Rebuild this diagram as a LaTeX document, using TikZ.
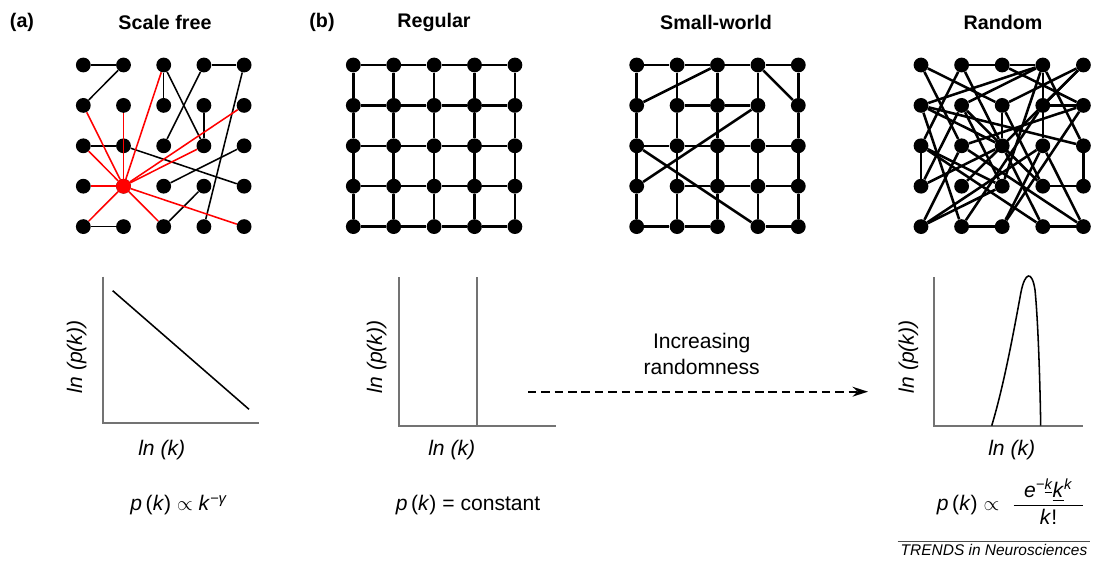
\documentclass[tikz,border=0pt]{standalone}
\usepackage{amsmath}
\usepackage{fontspec}
\setmainfont{Liberation Sans}
\usetikzlibrary{arrows.meta}

\begin{document}
\begin{tikzpicture}[x=0.025cm, y=-0.025cm,
    dot/.style={circle, fill=black, inner sep=0pt, minimum size=0.37cm},
    hubdot/.style={dot, fill=red},
    edge/.style={line width=1.8pt},
    thinedge/.style={line width=1.1pt},
    hubedge/.style={thinedge, red},
    axis/.style={line width=1.3pt, black!55},
    curve/.style={line width=1.1pt},
    title/.style={font=\bfseries\fontsize{14}{16}\selectfont},
    lbl/.style={font=\itshape\fontsize{15}{17}\selectfont},
    formula/.style={font=\fontsize{15}{18}\selectfont},
    dasharrow/.style={line width=1.2pt, dash pattern=on 6pt off 3.5pt, -{Stealth[length=11pt, width=7pt]}}]

    \useasboundingbox (0,0) rectangle (1097,565);

    % Titles
    \node[title] (tag-a) at (22,22) {(a)};
    \node[title] (t-sf) at (165,22) {Scale free};
    \node[title] (tag-b) at (322,22) {(b)};
    \node[title] (t-reg) at (434,22) {Regular};
    \node[title] (t-sw) at (716,22) {Small-world};
    \node[title] (t-rnd) at (1003,22) {Random};

    % Scale free network
    \foreach \c in {0,...,4}
        \foreach \r in {0,...,4}
            \node[dot] (sf-\c-\r) at ({83.3+40.2*\c},{65+40.4*\r}) {};
    \foreach \a/\b in {0-0/1-0, 1-0/0-1, 2-0/2-1, 2-0/3-2, 3-0/4-0, 3-0/2-2, 4-0/3-4,
                       3-1/3-2, 0-2/1-2, 1-2/4-3, 2-3/4-2, 2-4/3-3, 0-4/1-4}
        \draw[thinedge] (sf-\a) -- (sf-\b);
    \node[hubdot] (sf-hub) at (sf-1-3) {};
    \foreach \b in {0-1, 0-2, 0-3, 0-4, 1-1, 2-0, 4-1, 3-2, 2-4, 4-4}
        \draw[hubedge] (sf-hub) -- (sf-\b);

    % Regular lattice
    \foreach \c in {0,...,4}
        \foreach \r in {0,...,4}
            \node[dot] (reg-\c-\r) at ({353.3+40.4*\c},{65+40.4*\r}) {};
    \foreach \c [count=\n] in {0,...,3}
        \foreach \r in {0,...,4} {
            \draw[edge] (reg-\c-\r) -- (reg-\n-\r);
            \draw[edge] (reg-\r-\c) -- (reg-\r-\n);
        }

    % Small-world network
    \foreach \c in {0,...,4}
        \foreach \r in {0,...,4}
            \node[dot] (sw-\c-\r) at ({636.7+40.4*\c},{65+40.4*\r}) {};
    \foreach \r [count=\n] in {0,...,3}
        \foreach \c in {0,...,4}
            \draw[edge] (sw-\c-\r) -- (sw-\c-\n);
    \foreach \a/\b in {0-0/1-0, 1-0/2-0, 2-0/3-0, 3-0/4-0, 1-1/2-1, 2-1/3-1,
                       0-2/1-2, 1-2/2-2, 2-2/3-2, 3-2/4-2, 1-3/2-3, 2-3/3-3, 3-3/4-3,
                       0-4/1-4, 1-4/2-4, 3-4/4-4,
                       0-1/2-0, 3-0/4-1, 0-3/3-1, 0-2/3-4}
        \draw[edge] (sw-\a) -- (sw-\b);

    % Random network
    \foreach \c in {0,...,4}
        \foreach \r in {0,...,4}
            \node[dot] (rnd-\c-\r) at ({921+40.6*\c},{65+40.4*\r}) {};
    \foreach \a/\b in {1-0/2-0, 2-0/3-0, 2-1/2-2, 0-2/0-3, 4-2/4-3, 3-3/4-3, 1-4/2-4,
                       3-4/4-4, 3-1/4-1, 0-0/2-1, 0-0/1-2, 1-0/0-2, 1-0/2-2, 0-1/3-0,
                       0-1/2-2, 0-1/4-2, 0-1/1-4, 1-1/3-0, 1-1/0-3, 1-1/3-3, 2-1/4-0,
                       2-0/4-1, 3-0/4-2, 3-0/2-3, 3-0/3-2, 4-0/3-1, 4-0/1-3, 0-2/3-4,
                       0-2/2-3, 1-2/4-1, 1-2/4-4, 0-3/2-2, 0-4/2-3, 0-4/1-2, 1-1/2-3,
                       1-4/3-1, 2-4/3-2, 2-4/4-1, 3-2/4-4, 2-2/3-4, 3-3/2-1, 0-4/3-2}
        \draw[edge] (rnd-\a) -- (rnd-\b);

    % Degree distributions
    \draw[axis] (102.7,276.7) -- (102.7,423.3) -- (259.3,423.3);
    \draw[curve] (112.7,290.7) -- (249,409.3);
    \node[lbl, rotate=90] (sf-ylab) at (76.7,356.7) {ln (p(k))};
    \node[lbl] (sf-xlab) at (161.7,450) {ln (k)};

    \draw[axis] (399.3,277.3) -- (399.3,426) -- (555.7,426);
    \draw[axis] (477.3,277.3) -- (477.3,426);
    \node[lbl, rotate=90] (reg-ylab) at (376.7,356.7) {ln (p(k))};
    \node[lbl] (reg-xlab) at (451.7,450) {ln (k)};

    \draw[axis] (934,277.3) -- (934,425.7) -- (1083,425.7);
    \draw[curve] (991.7,425.7) .. controls (1004,385) and (1014,330) .. (1021,292)
        .. controls (1025,272) and (1032,270) .. (1035,290)
        .. controls (1038,320) and (1040,380) .. (1040.7,425.7);
    \node[lbl, rotate=90] (rnd-ylab) at (908.3,356.7) {ln (p(k))};
    \node[lbl] (rnd-xlab) at (1011.7,450) {ln (k)};

    % Formulas
    \node[formula] (sf-law) at (179,505) {\textit{p}\,(\textit{k}) $\propto$ \textit{k}\textsuperscript{\textit{−γ}}};
    \node[formula] (reg-law) at (468,505) {\textit{p}\,(\textit{k}) = constant};
    \node[formula] (rnd-law) at (1011,502) {\textit{p}\,(\textit{k}) $\propto$\hspace{0.6em}%
        $\dfrac{\text{\hspace{0.5em}\textit{e}\textsuperscript{\textit{−\underline{k}}}\underline{\textit{k}}\textsuperscript{\textit{k}}\hspace{0.5em}}}{\text{\textit{k}!}}$};

    % Increasing randomness
    \node[formula, align=center] (incr) at (701.7,354) {Increasing\\randomness};
    \coordinate (arr-start) at (528,391.7);
    \coordinate (arr-end) at (868,391.7);
    \draw[dasharrow] (arr-start) -- (arr-end);

    % Source
    \node[font=\itshape\fontsize{11}{13}\selectfont, inner sep=2pt] (trends) at (994,550) {TRENDS in Neurosciences};
    \draw[line width=0.6pt, black!70] (trends.north west) -- (trends.north east);
\end{tikzpicture}
\end{document}
